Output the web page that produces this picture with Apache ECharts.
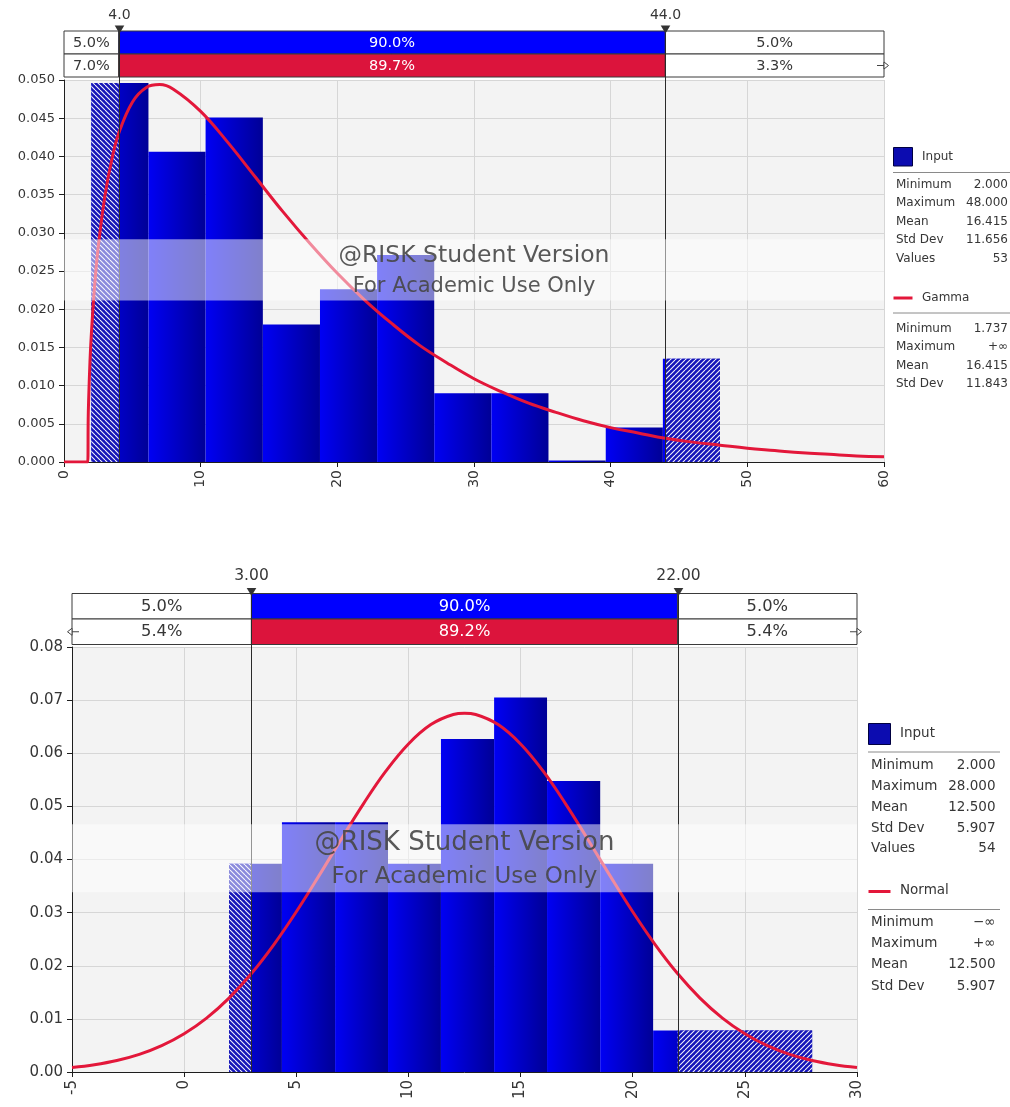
<!DOCTYPE html>
<html>
<head>
<meta charset="utf-8">
<script src="https://cdn.jsdelivr.net/npm/echarts@6/dist/echarts.min.js"></script>
<style>
  html, body { margin: 0; padding: 0; background: #ffffff; }
  #chart { width: 1010px; height: 1107px; }
</style>
</head>
<body>
<div id="chart"></div>
<script>
// ---------- upper panel: Input histogram with Gamma fit ----------
const topBinEdges = [2.00, 6.18, 10.36, 14.55, 18.73, 22.91, 27.09, 31.27, 35.45, 39.64, 43.82, 48.00];
const topDensity  = [0.0496, 0.0406, 0.0451, 0.0180, 0.0226, 0.0271, 0.0090, 0.0090, 0.0000, 0.0045, 0.0135];
const topCurveX = [0, 1.737, 1.77, 1.8, 1.9, 2, 2.25, 2.5, 3, 3.5, 4, 5, 6, 7, 8, 10, 12, 14, 16, 18, 20,
                   22, 24, 26, 28, 30, 32, 34, 36, 38, 40, 42, 44, 46, 48, 50, 52, 54, 56, 58, 60];
const topCurveY = [0, 0, 0.0056, 0.0079, 0.0131, 0.0167, 0.0233, 0.0281, 0.0349, 0.0396, 0.0430, 0.0471,
                   0.0490, 0.0494, 0.0488, 0.0459, 0.0418, 0.0373, 0.0328, 0.0286, 0.0247, 0.0212, 0.0181,
                   0.0153, 0.0130, 0.0109, 0.0092, 0.0077, 0.0065, 0.0054, 0.0045, 0.0038, 0.0031, 0.0026,
                   0.0022, 0.0018, 0.0015, 0.0012, 0.0010, 0.0008, 0.0007];
const topCutValues  = [4.0, 44.0];
const topCutLabels  = ['4.0', '44.0'];
const topInputShares = ['5.0%', '90.0%', '5.0%'];
const topFitShares   = ['7.0%', '89.7%', '3.3%'];
const topFitName = 'Gamma';
const topInputStats = [['Minimum', '2.000'], ['Maximum', '48.000'], ['Mean', '16.415'], ['Std Dev', '11.656'], ['Values', '53']];
const topFitStats   = [['Minimum', '1.737'], ['Maximum', '+\u221E'], ['Mean', '16.415'], ['Std Dev', '11.843']];

// ---------- lower panel: Input histogram with Normal fit ----------
const botBinEdges = [2.00, 4.36, 6.73, 9.09, 11.45, 13.82, 16.18, 18.55, 20.91, 23.27, 25.64, 28.00];
const botDensity  = [0.0392, 0.0470, 0.0470, 0.0392, 0.0627, 0.0705, 0.0548, 0.0392, 0.0078, 0.0078, 0.0078];
const botCurveX = [-5, -4, -3, -2, -1, 0, 1, 2, 3, 4, 5, 6, 7, 8, 9, 10, 11, 12, 12.5,
                   13, 14, 15, 16, 17, 18, 19, 20, 21, 22, 23, 24, 25, 26, 27, 28, 29, 30];
const botCurveY = [0.00084, 0.00137, 0.00216, 0.00332, 0.00496, 0.00720, 0.01015, 0.01391, 0.01853,
                   0.02399, 0.03017, 0.03687, 0.04378, 0.05053, 0.05667, 0.06175, 0.06540, 0.06730, 0.06754,
                   0.06730, 0.06540, 0.06175, 0.05667, 0.05053, 0.04378, 0.03687, 0.03017, 0.02399,
                   0.01853, 0.01391, 0.01015, 0.00720, 0.00496, 0.00332, 0.00216, 0.00137, 0.00084];
const botCutValues  = [3.00, 22.00];
const botCutLabels  = ['3.00', '22.00'];
const botInputShares = ['5.0%', '90.0%', '5.0%'];
const botFitShares   = ['5.4%', '89.2%', '5.4%'];
const botFitName = 'Normal';
const botInputStats = [['Minimum', '2.000'], ['Maximum', '28.000'], ['Mean', '12.500'], ['Std Dev', '5.907'], ['Values', '54']];
const botFitStats   = [['Minimum', '\u2212\u221E'], ['Maximum', '+\u221E'], ['Mean', '12.500'], ['Std Dev', '5.907']];

const WATERMARK = ['@RISK Student Version', 'For Academic Use Only'];
const FONT = 'DejaVu Sans';
const TEXT = '#363636';
const FIT_RED = '#E3173A';

// diagonal hatching used for the tails outside the cut values
function hatch(dir) {
  const s = 5;
  const c = document.createElement('canvas');
  c.width = s; c.height = s;
  const g = c.getContext('2d');
  g.fillStyle = '#1414b8';
  g.fillRect(0, 0, s, s);
  g.strokeStyle = 'rgba(255,255,255,0.95)';
  g.lineWidth = 1.1;
  for (let k = -1; k <= 1; k++) {
    g.beginPath();
    if (dir > 0) { g.moveTo(k * s, s); g.lineTo(k * s + s, 0); }
    else { g.moveTo(k * s, 0); g.lineTo(k * s + s, s); }
    g.stroke();
  }
  return { image: c, repeat: 'repeat' };
}
const hatchLeft = hatch(-1);
const hatchRight = hatch(1);

const panels = [
  {
    grid: { left: 64, top: 80, width: 820, height: 382 },
    xMin: 0, xMax: 60, xStep: 10, yMax: 0.05, yStep: 0.005, yDigits: 3,
    edges: topBinEdges, dens: topDensity, curveX: topCurveX, curveY: topCurveY,
    cuts: topCutValues, cutLabels: topCutLabels, inputShares: topInputShares, fitShares: topFitShares,
    tails: [false, true], fitName: topFitName, inputStats: topInputStats, fitStats: topFitStats,
    rowH: 23, gap: 3, pctFont: 14.5, cutFont: 14, cutLabelOff: 16, tickFont: 13, xFont: 14,
    wmFont: [23.5, 21],
    legend: { sqX: 893.5, sqY: 147.5, sqW: 19, sqH: 18.5, titleX: 922, titleY: 156.5, div1Y: 172.5,
              x0: 893, x1: 1010, labelX: 896, valueX: 1008, rows1: [184.5, 203, 221.5, 240, 259],
              lineY: 298, title2Y: 297.5, div2Y: 313, rows2: [328.5, 347, 365.5, 384], font: 12 }
  },
  {
    grid: { left: 72, top: 647, width: 785, height: 425 },
    xMin: -5, xMax: 30, xStep: 5, yMax: 0.08, yStep: 0.01, yDigits: 2,
    edges: botBinEdges, dens: botDensity, curveX: botCurveX, curveY: botCurveY,
    cuts: botCutValues, cutLabels: botCutLabels, inputShares: botInputShares, fitShares: botFitShares,
    tails: [true, true], fitName: botFitName, inputStats: botInputStats, fitStats: botFitStats,
    rowH: 25.5, gap: 2.5, pctFont: 16.3, cutFont: 15.5, cutLabelOff: 17.5, tickFont: 15, xFont: 15,
    wmFont: [26, 23],
    legend: { sqX: 868.5, sqY: 723.5, sqW: 22, sqH: 21, titleX: 900, titleY: 733.5, div1Y: 752,
              x0: 868, x1: 1000, labelX: 871, valueX: 995.5, rows1: [765, 786, 807, 828, 848.5],
              lineY: 891.5, title2Y: 890, div2Y: 909.5, rows2: [922.5, 943.5, 964.5, 986], font: 13.5 }
  }
];

function histSeries(p, gi) {
  const data = p.dens.map((d, i) => [p.edges[i], p.edges[i + 1], d]);
  return {
    type: 'custom', xAxisIndex: gi, yAxisIndex: gi, z: 2,
    encode: { x: [0, 1], y: 2 },
    data,
    renderItem(params, api) {
      const x0 = api.value(0), x1 = api.value(1), d = api.value(2);
      const a = api.coord([x0, d]), b = api.coord([x1, 0]);
      const left = a[0], right = b[0], bottom = b[1];
      const top = Math.min(a[1], bottom - 1.5);
      const h = bottom - top;
      const kids = [{
        type: 'rect', shape: { x: left, y: top, width: right - left, height: h },
        style: { fill: new echarts.graphic.LinearGradient(0, 0, 1, 0, [
          { offset: 0, color: '#0000F4' }, { offset: 1, color: '#000096' }]) }
      }];
      const lo = p.cuts[0], hi = p.cuts[1];
      if (x0 < lo) {
        const xe = api.coord([Math.min(x1, lo), 0])[0];
        kids.push({ type: 'rect', shape: { x: left, y: top, width: xe - left, height: h }, style: { fill: hatchLeft } });
      }
      if (x1 > hi) {
        const xs = api.coord([Math.max(x0, hi), 0])[0];
        kids.push({ type: 'rect', shape: { x: xs, y: top, width: right - xs, height: h }, style: { fill: hatchRight } });
      }
      return { type: 'group', children: kids };
    }
  };
}

function curveSeries(p, gi) {
  return {
    type: 'line', name: p.fitName, xAxisIndex: gi, yAxisIndex: gi, z: 3,
    data: p.curveX.map((x, i) => [x, p.curveY[i]]),
    showSymbol: false, smooth: 0.4,
    lineStyle: { color: FIT_RED, width: 3 }
  };
}

function stripSeries(p, gi) {
  const edges = [p.xMin, p.cuts[0], p.cuts[1], p.xMax];
  const data = [];
  for (let row = 0; row < 2; row++)
    for (let col = 0; col < 3; col++) data.push([edges[col], edges[col + 1], row, col]);
  return {
    type: 'custom', xAxisIndex: gi, yAxisIndex: gi, z: 6, clip: false,
    encode: { x: [0, 1] },
    data,
    renderItem(params, api) {
      const cs = params.coordSys;
      const xa = api.coord([api.value(0), 0])[0];
      const xb = api.coord([api.value(1), 0])[0];
      const row = api.value(2), col = api.value(3);
      const y = cs.y - p.gap - 2 * p.rowH + row * p.rowH;
      const mid = col === 1;
      const fill = mid ? (row === 0 ? '#0000FF' : '#DC143C') : '#FFFFFF';
      const text = (row === 0 ? p.inputShares : p.fitShares)[col];
      return {
        type: 'group', children: [
          { type: 'rect', shape: { x: xa, y, width: xb - xa, height: p.rowH },
            style: { fill, stroke: '#3a3a3a', lineWidth: 1 } },
          { type: 'text', style: { text, x: (xa + xb) / 2, y: y + p.rowH / 2 + 0.5, align: 'center',
            verticalAlign: 'middle', fill: mid ? '#ffffff' : TEXT, fontSize: p.pctFont, fontFamily: FONT } }
        ]
      };
    }
  };
}

function cutSeries(p, gi) {
  return {
    type: 'custom', xAxisIndex: gi, yAxisIndex: gi, z: 7, clip: false,
    encode: { x: 0 },
    data: p.cuts.map((v, i) => [v, i]),
    renderItem(params, api) {
      const cs = params.coordSys;
      const x = Math.round(api.coord([api.value(0), 0])[0]) + 0.5;
      const i = api.value(1);
      const boxTop = cs.y - p.gap - 2 * p.rowH;
      return {
        type: 'group', children: [
          { type: 'line', shape: { x1: x, y1: boxTop, x2: x, y2: cs.y + cs.height },
            style: { stroke: '#2a2a2a', lineWidth: 1 } },
          { type: 'polygon', shape: { points: [[x - 4.8, boxTop - 5.5], [x + 4.8, boxTop - 5.5], [x, boxTop + 2.5]] },
            style: { fill: '#333333' } },
          { type: 'text', style: { text: p.cutLabels[i], x, y: boxTop - p.cutLabelOff, align: 'center',
            verticalAlign: 'middle', fill: TEXT, fontSize: p.cutFont, fontFamily: FONT } }
        ]
      };
    }
  };
}

function tailSeries(p, gi) {
  const data = [];
  if (p.tails[0]) data.push([p.xMin, -1]);
  if (p.tails[1]) data.push([p.xMax, 1]);
  return {
    type: 'custom', xAxisIndex: gi, yAxisIndex: gi, z: 8, clip: false,
    encode: { x: 0 },
    data,
    renderItem(params, api) {
      const cs = params.coordSys;
      const x = api.coord([api.value(0), 0])[0];
      const s = api.value(1);
      const y = cs.y - p.gap - p.rowH / 2;
      return {
        type: 'group', children: [
          { type: 'line', shape: { x1: x - 7 * s, y1: y, x2: x, y2: y }, style: { stroke: '#444', lineWidth: 1 } },
          { type: 'polygon', shape: { points: [[x, y - 3.5], [x + 4.5 * s, y], [x, y + 3.5]] },
            style: { fill: '#ffffff', stroke: '#444', lineWidth: 1 } }
        ]
      };
    }
  };
}

function watermarkSeries(p, gi) {
  return {
    type: 'custom', xAxisIndex: gi, yAxisIndex: gi, z: 10, clip: false,
    encode: { x: 0 },
    data: [[p.xMin]],
    renderItem(params) {
      const cs = params.coordSys;
      const y0 = cs.y + cs.height * 0.417, y1 = cs.y + cs.height * 0.577;
      const cx = cs.x + cs.width / 2;
      return {
        type: 'group', children: [
          { type: 'rect', shape: { x: cs.x, y: y0, width: cs.width, height: y1 - y0 },
            style: { fill: 'rgba(255,255,255,0.5)' } },
          { type: 'text', style: { text: WATERMARK[0], x: cx, y: cs.y + cs.height * 0.461, align: 'center',
            verticalAlign: 'middle', fill: 'rgba(70,70,70,0.9)', fontSize: p.wmFont[0], fontFamily: FONT } },
          { type: 'text', style: { text: WATERMARK[1], x: cx, y: cs.y + cs.height * 0.541, align: 'center',
            verticalAlign: 'middle', fill: 'rgba(70,70,70,0.9)', fontSize: p.wmFont[1], fontFamily: FONT } }
        ]
      };
    }
  };
}

function legendGraphics(p) {
  const L = p.legend, out = [];
  const txt = (text, x, y, align) => ({
    type: 'text', x, y, silent: true,
    style: { text, align: align || 'left', verticalAlign: 'middle', fill: TEXT, fontSize: L.font, fontFamily: FONT }
  });
  const rule = (y) => ({ type: 'line', silent: true, shape: { x1: L.x0, y1: y, x2: L.x1, y2: y },
    style: { stroke: '#8a8a8a', lineWidth: 1 } });
  out.push({ type: 'rect', silent: true, shape: { x: L.sqX, y: L.sqY, width: L.sqW, height: L.sqH },
    style: { fill: '#0c0cb0', stroke: '#000040', lineWidth: 1 } });
  out.push(txt('Input', L.titleX, L.titleY));
  out.push(rule(L.div1Y));
  p.inputStats.forEach((r, i) => { out.push(txt(r[0], L.labelX, L.rows1[i])); out.push(txt(r[1], L.valueX, L.rows1[i], 'right')); });
  out.push({ type: 'line', silent: true, shape: { x1: L.sqX, y1: L.lineY, x2: L.sqX + L.sqW, y2: L.lineY },
    style: { stroke: FIT_RED, lineWidth: 3 } });
  out.push(txt(p.fitName, L.titleX, L.title2Y));
  out.push(rule(L.div2Y));
  p.fitStats.forEach((r, i) => { out.push(txt(r[0], L.labelX, L.rows2[i])); out.push(txt(r[1], L.valueX, L.rows2[i], 'right')); });
  return out;
}

const option = {
  animation: false,
  backgroundColor: '#ffffff',
  grid: panels.map(p => Object.assign({ show: true, backgroundColor: '#f3f3f3', borderWidth: 0,
    containLabel: false, outerBoundsMode: 'none' }, p.grid)),
  xAxis: panels.map((p, gi) => ({
    type: 'value', gridIndex: gi, min: p.xMin, max: p.xMax, interval: p.xStep,
    axisLine: { show: true, onZero: false, lineStyle: { color: '#1e1e1e', width: 1 } },
    axisTick: { show: true, length: 5, lineStyle: { color: '#1e1e1e' } },
    axisLabel: { rotate: 90, margin: 8, color: TEXT, fontSize: p.xFont, fontFamily: FONT,
      showMinLabel: true, showMaxLabel: true, hideOverlap: false },
    splitLine: { show: true, lineStyle: { color: '#d6d6d6', width: 1 } }
  })),
  yAxis: panels.map((p, gi) => ({
    type: 'value', gridIndex: gi, min: 0, max: p.yMax, interval: p.yStep,
    axisLine: { show: true, onZero: false, lineStyle: { color: '#1e1e1e', width: 1 } },
    axisTick: { show: true, length: 5, lineStyle: { color: '#1e1e1e' } },
    axisLabel: { margin: 9, color: TEXT, fontSize: p.tickFont, fontFamily: FONT,
      formatter: v => v.toFixed(p.yDigits), showMinLabel: true, showMaxLabel: true, hideOverlap: false },
    splitLine: { show: true, lineStyle: { color: '#d6d6d6', width: 1 } }
  })),
  series: panels.flatMap((p, gi) => [
    histSeries(p, gi), curveSeries(p, gi), cutSeries(p, gi), stripSeries(p, gi),
    tailSeries(p, gi), watermarkSeries(p, gi)
  ]),
  graphic: panels.flatMap(legendGraphics)
};

const chart = echarts.init(document.getElementById('chart'), null, { renderer: 'canvas' });
chart.setOption(option);
</script>
</body>
</html>
